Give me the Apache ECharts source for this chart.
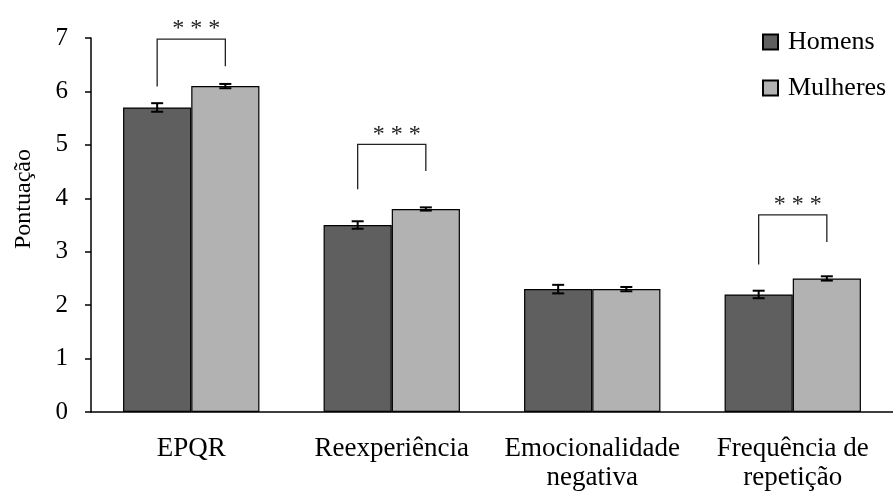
<!DOCTYPE html>
<html>
<head>
<meta charset="utf-8">
<script src="https://cdn.jsdelivr.net/npm/echarts@6/dist/echarts.min.js"></script>
<style>
html,body{margin:0;padding:0;background:#fff;}
#chart{width:893px;height:495px;}
</style>
</head>
<body>
<div id="chart"></div>
<script>
// ---- data ----
var categories = ['EPQR', 'Reexperiência', 'Emocionalidade\nnegativa', 'Frequência de\nrepetição'];
var seriesNames = ['Homens', 'Mulheres'];
var homens = [5.7, 3.5, 2.3, 2.2];
var mulheres = [6.1, 3.8, 2.3, 2.5];
var homensErr = [0.08, 0.07, 0.08, 0.07];
var mulheresErr = [0.04, 0.03, 0.04, 0.04];
var yTicks = [0, 1, 2, 3, 4, 5, 6, 7];
// significance brackets: category index, top level, left leg end, right leg end, label
var sigCategory = [0, 1, 3];
var sigTop = [6.98, 5.01, 3.69];
var sigLeftEnd = [6.09, 4.17, 2.76];
var sigRightEnd = [6.47, 4.51, 3.18];
var sigLabel = ['* * *', '* * *', '* * *'];

var FONT = 'Liberation Serif';
var BAR_FRAC = 0.34;

var chart = echarts.init(document.getElementById('chart'));

function errData(vals, errs) {
  return vals.map(function (v, i) { return [i, v, errs[i]]; });
}

function makeErrSeries(name, vals, errs, sign) {
  return {
    type: 'custom',
    name: name + ' erro',
    z: 5,
    silent: true,
    data: errData(vals, errs),
    renderItem: function (params, api) {
      var idx = api.value(0), v = api.value(1), e = api.value(2);
      var band = api.size([1, 0])[0];
      var c = api.coord([idx, v]);
      var x = c[0] + sign * band * BAR_FRAC / 2;
      var yHi = api.coord([idx, v + e])[1];
      var yLo = api.coord([idx, v - e])[1];
      var cw = 6;
      var st = { stroke: '#000', lineWidth: 2 };
      return {
        type: 'group',
        children: [
          { type: 'line', shape: { x1: x, y1: yHi, x2: x, y2: yLo }, style: st },
          { type: 'line', shape: { x1: x - cw, y1: yHi, x2: x + cw, y2: yHi }, style: st },
          { type: 'line', shape: { x1: x - cw, y1: yLo, x2: x + cw, y2: yLo }, style: st }
        ]
      };
    }
  };
}

var sigData = sigCategory.map(function (c, i) {
  return [c, sigTop[i], sigLeftEnd[i], sigRightEnd[i], sigLabel[i]];
});

var option = {
  animation: false,
  backgroundColor: '#fff',
  textStyle: { fontFamily: FONT },
  grid: { left: 91, right: 0, top: 38, bottom: 83, containLabel: false },
  legend: {
    data: seriesNames,
    orient: 'vertical',
    left: 757,
    top: 24,
    itemWidth: 15,
    itemHeight: 15,
    itemGap: 20,
    icon: 'rect',
    textStyle: { fontFamily: FONT, fontSize: 26, color: '#000', padding: [0, 0, 0, 5] },
    selectedMode: false
  },
  xAxis: {
    type: 'category',
    data: categories,
    axisLine: { show: true, lineStyle: { color: '#000', width: 1.5 } },
    axisTick: { show: false },
    axisLabel: { fontFamily: FONT, fontSize: 27, lineHeight: 29, color: '#000', margin: 22, interval: 0 }
  },
  yAxis: {
    type: 'value',
    min: yTicks[0],
    max: yTicks[yTicks.length - 1],
    interval: 1,
    name: 'Pontuação',
    nameLocation: 'middle',
    nameGap: 55,
    nameTextStyle: { fontFamily: FONT, fontSize: 24, color: '#000', padding: [0, 0, 0, 52] },
    axisLine: { show: true, lineStyle: { color: '#000', width: 1.5 } },
    axisTick: { show: true, inside: false, length: 6, lineStyle: { color: '#000', width: 1.5 } },
    splitLine: { show: false },
    axisLabel: { fontFamily: FONT, fontSize: 25, color: '#000', margin: 23 }
  },
  series: [
    {
      type: 'bar',
      name: seriesNames[0],
      data: homens,
      barWidth: (BAR_FRAC * 100) + '%',
      barGap: '0%',
      itemStyle: { color: '#5f5f5f', borderColor: '#000', borderWidth: 1.2 }
    },
    {
      type: 'bar',
      name: seriesNames[1],
      data: mulheres,
      barWidth: (BAR_FRAC * 100) + '%',
      barGap: '0%',
      itemStyle: { color: '#b2b2b2', borderColor: '#000', borderWidth: 1.2 }
    },
    makeErrSeries(seriesNames[0], homens, homensErr, -1),
    makeErrSeries(seriesNames[1], mulheres, mulheresErr, 1),
    {
      type: 'custom',
      name: 'sig',
      z: 6,
      silent: true,
      data: sigData,
      renderItem: function (params, api) {
        var idx = api.value(0);
        var band = api.size([1, 0])[0];
        var cx = api.coord([idx, 0])[0];
        var xL = cx - band * BAR_FRAC / 2;
        var xR = cx + band * BAR_FRAC / 2;
        var yT = api.coord([idx, api.value(1)])[1];
        var yL = api.coord([idx, api.value(2)])[1];
        var yR = api.coord([idx, api.value(3)])[1];
        return {
          type: 'group',
          children: [
            {
              type: 'polyline',
              shape: { points: [[xL, yL], [xL, yT], [xR, yT], [xR, yR]] },
              style: { stroke: '#222', lineWidth: 1.3, fill: null }
            },
            {
              type: 'text',
              x: (xL + xR) / 2 + 5,
              y: yT - 10,
              style: {
                text: sigLabel[params.dataIndex],
                fontFamily: FONT,
                fontSize: 24,
                fill: '#222',
                align: 'center',
                verticalAlign: 'middle'
              }
            }
          ]
        };
      }
    }
  ]
};
chart.setOption(option);
</script>
</body>
</html>
